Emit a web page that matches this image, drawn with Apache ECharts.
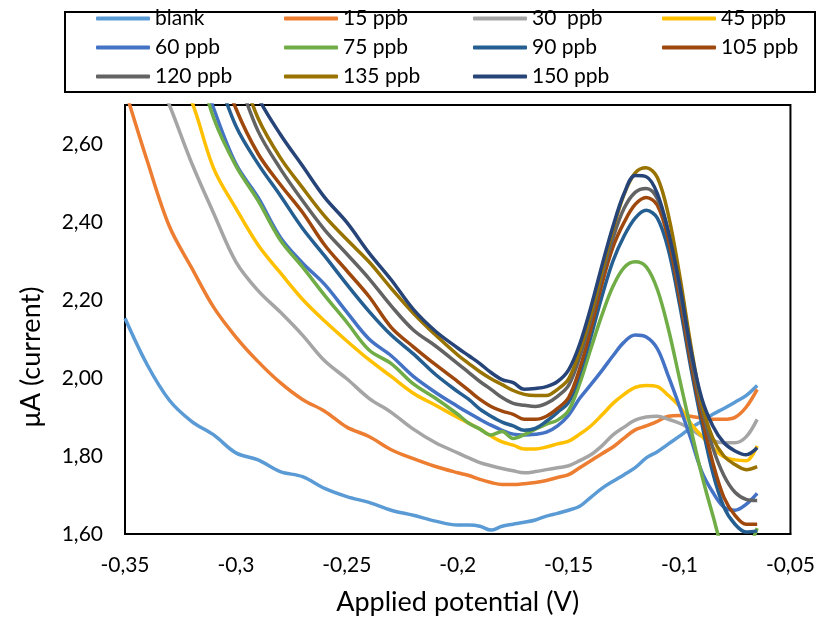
<!DOCTYPE html>
<html>
<head>
<meta charset="utf-8">
<script src="https://cdn.jsdelivr.net/npm/echarts@6/dist/echarts.min.js"></script>
<style>
  html, body { margin: 0; padding: 0; background: #fff; }
  #chart { width: 818px; height: 621px; }
</style>
</head>
<body>
<div id="chart"></div>
<script>
// Applied potential (V) at which every voltammogram is sampled
const potential = [
  -0.35, -0.34, -0.33, -0.32, -0.31, -0.30, -0.29, -0.28, -0.27, -0.26, -0.25, -0.24, -0.23, -0.22, -0.21, -0.20,
  -0.195, -0.19, -0.185, -0.18, -0.175, -0.17, -0.165, -0.16, -0.155, -0.15, -0.145, -0.14, -0.135, -0.13,
  -0.125, -0.12, -0.115, -0.11, -0.105, -0.10, -0.095, -0.09, -0.085, -0.08, -0.075, -0.07, -0.065
];

// Current (µA) for each concentration
const blank = [
  2.153, 2.034, 1.943, 1.889, 1.854, 1.808, 1.790, 1.760, 1.747, 1.717, 1.696, 1.681, 1.661, 1.648, 1.633, 1.623,
  1.623, 1.620, 1.610, 1.620, 1.625, 1.630, 1.636, 1.646, 1.653, 1.661, 1.671, 1.694, 1.717, 1.735,
  1.752, 1.770, 1.795, 1.811, 1.831, 1.851, 1.872, 1.889, 1.907, 1.922, 1.938, 1.955, 1.981
];
const ppb15 = [
  2.740, 2.557, 2.389, 2.283, 2.181, 2.105, 2.042, 1.988, 1.945, 1.915, 1.874, 1.850, 1.816, 1.793, 1.773, 1.757,
  1.750, 1.740, 1.732, 1.727, 1.727, 1.729, 1.732, 1.737, 1.745, 1.752, 1.770, 1.788, 1.806, 1.823,
  1.846, 1.867, 1.877, 1.889, 1.902, 1.904, 1.902, 1.897, 1.894, 1.894, 1.899, 1.925, 1.971
];
const ppb30 = [
  2.960, 2.830, 2.700, 2.552, 2.422, 2.298, 2.224, 2.169, 2.110, 2.044, 1.998, 1.948, 1.912, 1.869, 1.834, 1.808,
  1.795, 1.783, 1.775, 1.768, 1.762, 1.757, 1.760, 1.765, 1.770, 1.775, 1.788, 1.803, 1.826, 1.854,
  1.874, 1.892, 1.900, 1.902, 1.894, 1.884, 1.869, 1.851, 1.839, 1.834, 1.834, 1.849, 1.894
];
const ppb45 = [
  3.100, 2.950, 2.820, 2.710, 2.537, 2.435, 2.341, 2.270, 2.202, 2.146, 2.095, 2.047, 2.004, 1.961, 1.930, 1.899,
  1.884, 1.869, 1.851, 1.836, 1.828, 1.818, 1.818, 1.823, 1.831, 1.838, 1.856, 1.877, 1.905, 1.935,
  1.958, 1.976, 1.981, 1.978, 1.955, 1.927, 1.884, 1.851, 1.821, 1.798, 1.790, 1.788, 1.826
];
const ppb60 = [
  3.200, 3.080, 2.950, 2.860, 2.691, 2.549, 2.463, 2.361, 2.295, 2.240, 2.169, 2.100, 2.057, 2.004, 1.963, 1.927,
  1.910, 1.894, 1.879, 1.866, 1.856, 1.854, 1.856, 1.861, 1.877, 1.905, 1.948, 1.983, 2.019, 2.057,
  2.092, 2.110, 2.105, 2.075, 2.004, 1.927, 1.846, 1.760, 1.707, 1.669, 1.661, 1.676, 1.704
];
const ppb75 = [
  3.300, 3.150, 3.000, 2.860, 2.666, 2.544, 2.455, 2.354, 2.285, 2.212, 2.143, 2.072, 2.037, 1.985, 1.948, 1.907,
  1.884, 1.869, 1.854, 1.863, 1.845, 1.855, 1.869, 1.882, 1.892, 1.917, 1.986, 2.075, 2.161, 2.235,
  2.283, 2.298, 2.285, 2.227, 2.125, 1.998, 1.872, 1.752, 1.648, 1.554, 1.520, 1.550, 1.615
];
const ppb90 = [
  3.400, 3.250, 3.100, 2.950, 2.800, 2.646, 2.549, 2.468, 2.384, 2.313, 2.240, 2.171, 2.110, 2.062, 2.009, 1.965,
  1.945, 1.920, 1.902, 1.887, 1.877, 1.866, 1.871, 1.889, 1.912, 1.938, 2.011, 2.105, 2.209, 2.300,
  2.364, 2.410, 2.430, 2.410, 2.328, 2.189, 2.029, 1.884, 1.757, 1.669, 1.625, 1.605, 1.608
];
const ppb105 = [
  3.450, 3.300, 3.150, 3.000, 2.850, 2.691, 2.575, 2.496, 2.425, 2.341, 2.275, 2.209, 2.130, 2.080, 2.034, 1.991,
  1.968, 1.945, 1.927, 1.915, 1.907, 1.894, 1.894, 1.902, 1.922, 1.950, 2.024, 2.125, 2.240, 2.336,
  2.399, 2.445, 2.463, 2.443, 2.354, 2.207, 2.044, 1.902, 1.783, 1.694, 1.648, 1.625, 1.625
];
const ppb120 = [
  3.500, 3.350, 3.200, 3.050, 2.900, 2.780, 2.633, 2.537, 2.455, 2.380, 2.318, 2.255, 2.185, 2.123, 2.082, 2.037,
  2.014, 1.991, 1.971, 1.950, 1.935, 1.930, 1.927, 1.935, 1.953, 1.981, 2.054, 2.151, 2.262, 2.359,
  2.435, 2.476, 2.486, 2.460, 2.374, 2.227, 2.062, 1.922, 1.821, 1.750, 1.707, 1.689, 1.686
];
const ppb135 = [
  3.550, 3.400, 3.250, 3.100, 2.950, 2.820, 2.666, 2.565, 2.488, 2.415, 2.355, 2.298, 2.230, 2.166, 2.110, 2.059,
  2.037, 2.016, 1.998, 1.983, 1.968, 1.958, 1.955, 1.955, 1.971, 1.998, 2.070, 2.163, 2.273, 2.381,
  2.471, 2.526, 2.539, 2.514, 2.417, 2.265, 2.087, 1.935, 1.846, 1.800, 1.778, 1.765, 1.773
];
const ppb150 = [
  3.600, 3.450, 3.300, 3.150, 3.000, 2.860, 2.720, 2.625, 2.544, 2.463, 2.399, 2.321, 2.252, 2.176, 2.120, 2.077,
  2.057, 2.037, 2.014, 1.996, 1.988, 1.971, 1.973, 1.978, 1.991, 2.021, 2.087, 2.181, 2.288, 2.389,
  2.473, 2.519, 2.516, 2.473, 2.374, 2.240, 2.075, 1.948, 1.877, 1.834, 1.813, 1.803, 1.821
];

const seriesNames = ['blank', '15 ppb', '30  ppb', '45 ppb', '60 ppb', '75 ppb', '90 ppb', '105 ppb', '120 ppb', '135 ppb', '150 ppb'];
const seriesValues = [blank, ppb15, ppb30, ppb45, ppb60, ppb75, ppb90, ppb105, ppb120, ppb135, ppb150];
const seriesColors = ['#5B9BD5', '#ED7D31', '#A5A5A5', '#FFC000', '#4472C4', '#70AD47', '#255E91', '#9E480E', '#636363', '#997300', '#264478'];

// Legend laid out as four columns
const legendColumns = [
  ['blank', '60 ppb', '120 ppb'],
  ['15 ppb', '75 ppb', '135 ppb'],
  ['30  ppb', '90 ppb', '150 ppb'],
  ['45 ppb', '105 ppb']
];
const legendColumnLeft = [96, 284, 473, 662];

const FONT = 'Lato, "Open Sans", sans-serif';
const commaDecimal = s => s.replace('.', ',');

const chart = echarts.init(document.getElementById('chart'), null, { renderer: 'canvas' });

const option = {
  backgroundColor: '#fff',
  animation: false,
  textStyle: { fontFamily: FONT, color: '#000' },
  grid: {
    left: 125, right: 26, top: 105, bottom: 84,
    show: true, borderColor: '#000', borderWidth: 2, backgroundColor: 'transparent'
  },
  legend: legendColumns.map((names, i) => ({
    data: names,
    orient: 'vertical',
    left: legendColumnLeft[i],
    top: 8,
    icon: 'roundRect',
    itemWidth: 54,
    itemHeight: 4,
    itemGap: 8,
    padding: 0,
    selectedMode: false,
    textStyle: { fontFamily: FONT, fontSize: 21, lineHeight: 21, color: '#000' }
  })),
  graphic: [
    {
      type: 'rect',
      shape: { x: 65, y: 12, width: 750, height: 80 },
      style: { fill: 'none', stroke: '#000', lineWidth: 2 },
      silent: true
    },
    {
      type: 'text',
      x: 31, y: 357,
      rotation: Math.PI / 2,
      style: {
        text: 'μA (current)',
        fontFamily: FONT, fontSize: 27, fill: '#000',
        align: 'center', verticalAlign: 'middle'
      },
      silent: true
    }
  ],
  xAxis: {
    type: 'value',
    min: -0.35, max: -0.05, interval: 0.05,
    name: 'Applied potential (V)',
    nameLocation: 'middle',
    nameGap: 55,
    nameTextStyle: { fontFamily: FONT, fontSize: 27, color: '#000' },
    axisLine: { show: true, onZero: false, lineStyle: { color: '#000', width: 2 } },
    axisTick: { show: false },
    splitLine: { show: false },
    axisLabel: {
      fontFamily: FONT, fontSize: 21, color: '#000', margin: 21,
      formatter: v => commaDecimal(String(Math.round(v * 100) / 100))
    }
  },
  yAxis: {
    type: 'value',
    min: 1.6, max: 2.7, interval: 0.2,
    axisLine: { show: true, onZero: false, lineStyle: { color: '#000', width: 2 } },
    axisTick: { show: false },
    splitLine: { show: false },
    axisLabel: {
      fontFamily: FONT, fontSize: 21, color: '#000', margin: 22,
      showMaxLabel: false,
      formatter: v => commaDecimal(v.toFixed(2))
    }
  },
  series: seriesNames.map((name, i) => ({
    name,
    type: 'line',
    smooth: 0.35,
    showSymbol: false,
    clip: true,
    color: seriesColors[i],
    lineStyle: { color: seriesColors[i], width: 3.5 },
    data: potential.map((x, k) => [x, seriesValues[i][k]])
  }))
};

chart.setOption(option);
</script>
</body>
</html>
